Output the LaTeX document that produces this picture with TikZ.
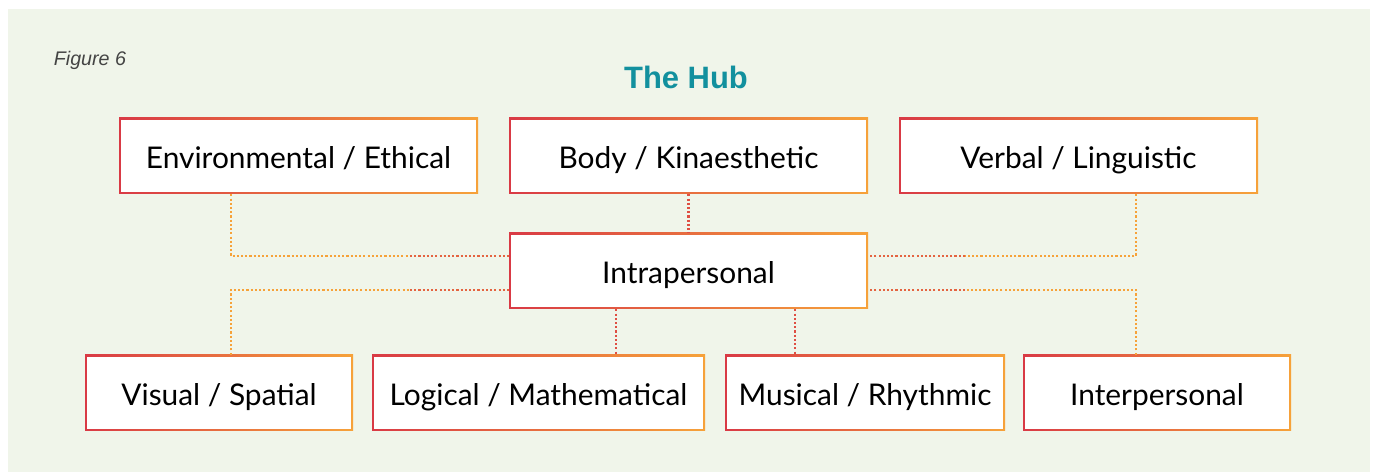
\documentclass[tikz,border=0pt]{standalone}
\usepackage{fontspec}
\setmainfont{Lato}
\newfontfamily\arialfont{Liberation Sans}
\definecolor{hubred}{HTML}{D93A45}
\definecolor{huborange}{HTML}{F6A23A}
\definecolor{hubbg}{HTML}{F0F5EA}
\definecolor{hubteal}{HTML}{12909E}
\definecolor{hubgray}{HTML}{444444}

\begin{document}
\begin{tikzpicture}
\tikzstyle{box} = [rectangle, minimum height=1.52cm, inner sep=0pt, text height=14pt, text depth=0pt, font=\fontsize{17}{19}\selectfont,
  path picture={\shade[left color=hubred, right color=huborange] (path picture bounding box.south west) rectangle (path picture bounding box.north east);
    \fill[white] ([shift={(0.9pt,0.9pt)}]path picture bounding box.south west) rectangle ([shift={(-0.9pt,-0.9pt)}]path picture bounding box.north east);}]
\tikzstyle{link} = [line width=1.3pt, dash pattern=on 1.2pt off 1.2pt]
\useasboundingbox (0,0) rectangle (27.5,9.44);
\fill[hubbg] (0.16,0) rectangle (27.4,9.26);
\node (fig) at (1.8,8.24) {\arialfont\itshape\fontsize{11.2}{13}\selectfont\color{hubgray}Figure 6};
\node (title) at (13.72,7.90) {\arialfont\bfseries\fontsize{17.6}{20}\selectfont\color{hubteal}The Hub};
% top row
\node[box, minimum width=7.18cm] (env) at (5.97,6.32) {Environmental / Ethical};
\node[box, minimum width=7.18cm] (body) at (13.77,6.32) {Body / Kinaesthetic};
\node[box, minimum width=7.18cm] (verbal) at (21.57,6.32) {Verbal / Linguistic};
% hub
\node[box, minimum width=7.18cm] (intra) at (13.77,4.02) {Intrapersonal};
% bottom row
\node[box, minimum width=5.36cm] (visual) at (4.38,1.58) {Visual / Spatial};
\node[box, minimum width=6.66cm] (logical) at (10.77,1.58) {Logical / Mathematical};
\node[box, minimum width=5.60cm] (musical) at (17.30,1.58) {Musical / Rhythmic};
\node[box, minimum width=5.36cm] (inter) at (23.14,1.58) {Interpersonal};
% corners and taps
\coordinate (lt) at (4.62,4.32);
\coordinate (rt) at (22.72,4.32);
\coordinate (lb) at (4.62,3.64);
\coordinate (rb) at (22.72,3.64);
\coordinate (ltmid) at (8.2,4.32);
\coordinate (rtmid) at (19.3,4.32);
\coordinate (lbmid) at (8.2,3.64);
\coordinate (rbmid) at (19.3,3.64);
\coordinate (logtap) at (12.32,0);
\coordinate (mustap) at (15.90,0);
% connectors
\draw[link, huborange] (env.south -| lt) -- (lt) -- (ltmid);
\draw[link, hubred!60!huborange] (ltmid) -- (intra.west |- lt);
\draw[link, huborange] (verbal.south -| rt) -- (rt) -- (rtmid);
\draw[link, hubred!60!huborange] (rtmid) -- (intra.east |- rt);
\draw[link, huborange] (visual.north -| lb) -- (lb) -- (lbmid);
\draw[link, hubred!60!huborange] (lbmid) -- (intra.west |- lb);
\draw[link, huborange] (inter.north -| rb) -- (rb) -- (rbmid);
\draw[link, hubred!60!huborange] (rbmid) -- (intra.east |- rb);
\draw[link, hubred!80!huborange] (body.south) -- (intra.north);
\draw[link, hubred!80!huborange] (intra.south -| logtap) -- (logical.north -| logtap);
\draw[link, hubred!80!huborange] (intra.south -| mustap) -- (musical.north -| mustap);
\end{tikzpicture}
\end{document}
